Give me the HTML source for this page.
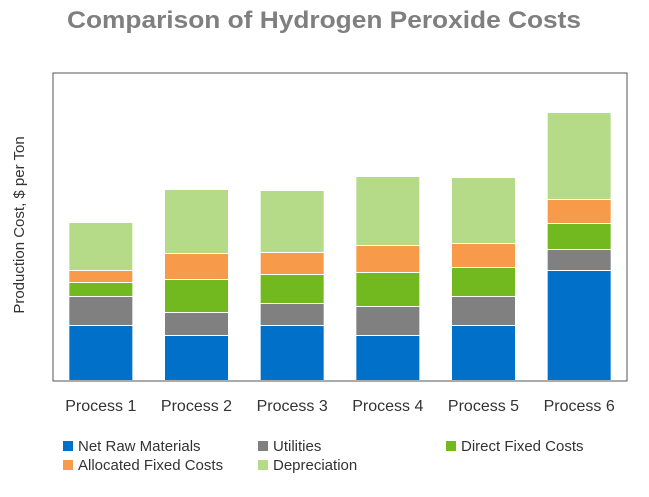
<!DOCTYPE html>
<html><head><meta charset="utf-8"><style>
body{margin:0;background:#fff;}
svg text{font-family:"Liberation Sans",Arial,sans-serif;}
</style></head><body>
<svg id="chart" width="649" height="492" xmlns="http://www.w3.org/2000/svg">
<text x="324" y="28" text-anchor="middle" font-size="24" font-weight="bold" fill="#7f7f7f" textLength="514" lengthAdjust="spacingAndGlyphs">Comparison of Hydrogen Peroxide Costs</text>
<rect x="53" y="73" width="574" height="308" fill="none" stroke="#555" stroke-width="1"/>
<text transform="translate(24,225) rotate(-90)" text-anchor="middle" font-size="15" fill="#333">Production Cost, $ per Ton</text>
<g id="bars"></g><g id="xlabels"></g><g id="legend"></g>
</svg>
<script>
const categories=["Process 1","Process 2","Process 3","Process 4","Process 5","Process 6"];
const seriesNames=["Net Raw Materials","Utilities","Direct Fixed Costs","Allocated Fixed Costs","Depreciation"];
const netRaw=[54,44,54,44,54,109];
const utilities=[29,23,22,29,29,21];
const directFixed=[14,33,29,34,29,26];
const allocatedFixed=[12,26,22,27,24,24];
const depreciation=[48,64,62,69,66,87];
const series=[netRaw,utilities,directFixed,allocatedFixed,depreciation];
const colors=["#0070c8","#808080","#72b81f","#f79b4a","#b6db88"];
const ns="http://www.w3.org/2000/svg";
const x0=53,x1=627,yTop=73,yBase=380,yMax=307;
const y=v=>yBase-v/yMax*(yBase-yTop);
const band=(x1-x0)/categories.length;
const xc=i=>x0+band*(i+0.5);
const bw=63;
const gb=document.getElementById('bars');
categories.forEach((c,i)=>{
 let acc=0;
 series.forEach((s,k)=>{
  const r=document.createElementNS(ns,'rect');
  const top=y(acc+s[i]);
  const bot=y(acc)-(k===0?0:1);
  r.setAttribute('x',xc(i)-bw/2);
  r.setAttribute('y',top);
  r.setAttribute('width',bw);
  r.setAttribute('height',Math.max(0,bot-top));
  r.setAttribute('fill',colors[k]);
  
  
  gb.appendChild(r);
  acc+=s[i];
 });
 const t=document.createElementNS(ns,'text');
 t.setAttribute('x',xc(i));t.setAttribute('y',411);
 t.setAttribute('text-anchor','middle');t.setAttribute('font-size','16');t.setAttribute('fill','#333');
 t.textContent=c;
 
 
 document.getElementById('xlabels').appendChild(t);
});
const lx=[63,258,446,63,258],ly=[446,446,446,465,465];
const gl=document.getElementById('legend');
seriesNames.forEach((n,k)=>{
 const g=document.createElementNS(ns,'g');
 
 
 const r=document.createElementNS(ns,'rect');
 r.setAttribute('x',lx[k]);r.setAttribute('y',ly[k]-5);r.setAttribute('width',10);r.setAttribute('height',10);r.setAttribute('fill',colors[k]);
 const t=document.createElementNS(ns,'text');
 t.setAttribute('x',lx[k]+15);t.setAttribute('y',ly[k]+5);t.setAttribute('font-size','15');t.setAttribute('fill','#333');
 t.textContent=n;
 g.appendChild(r);g.appendChild(t);gl.appendChild(g);
});
</script>
</body></html>
